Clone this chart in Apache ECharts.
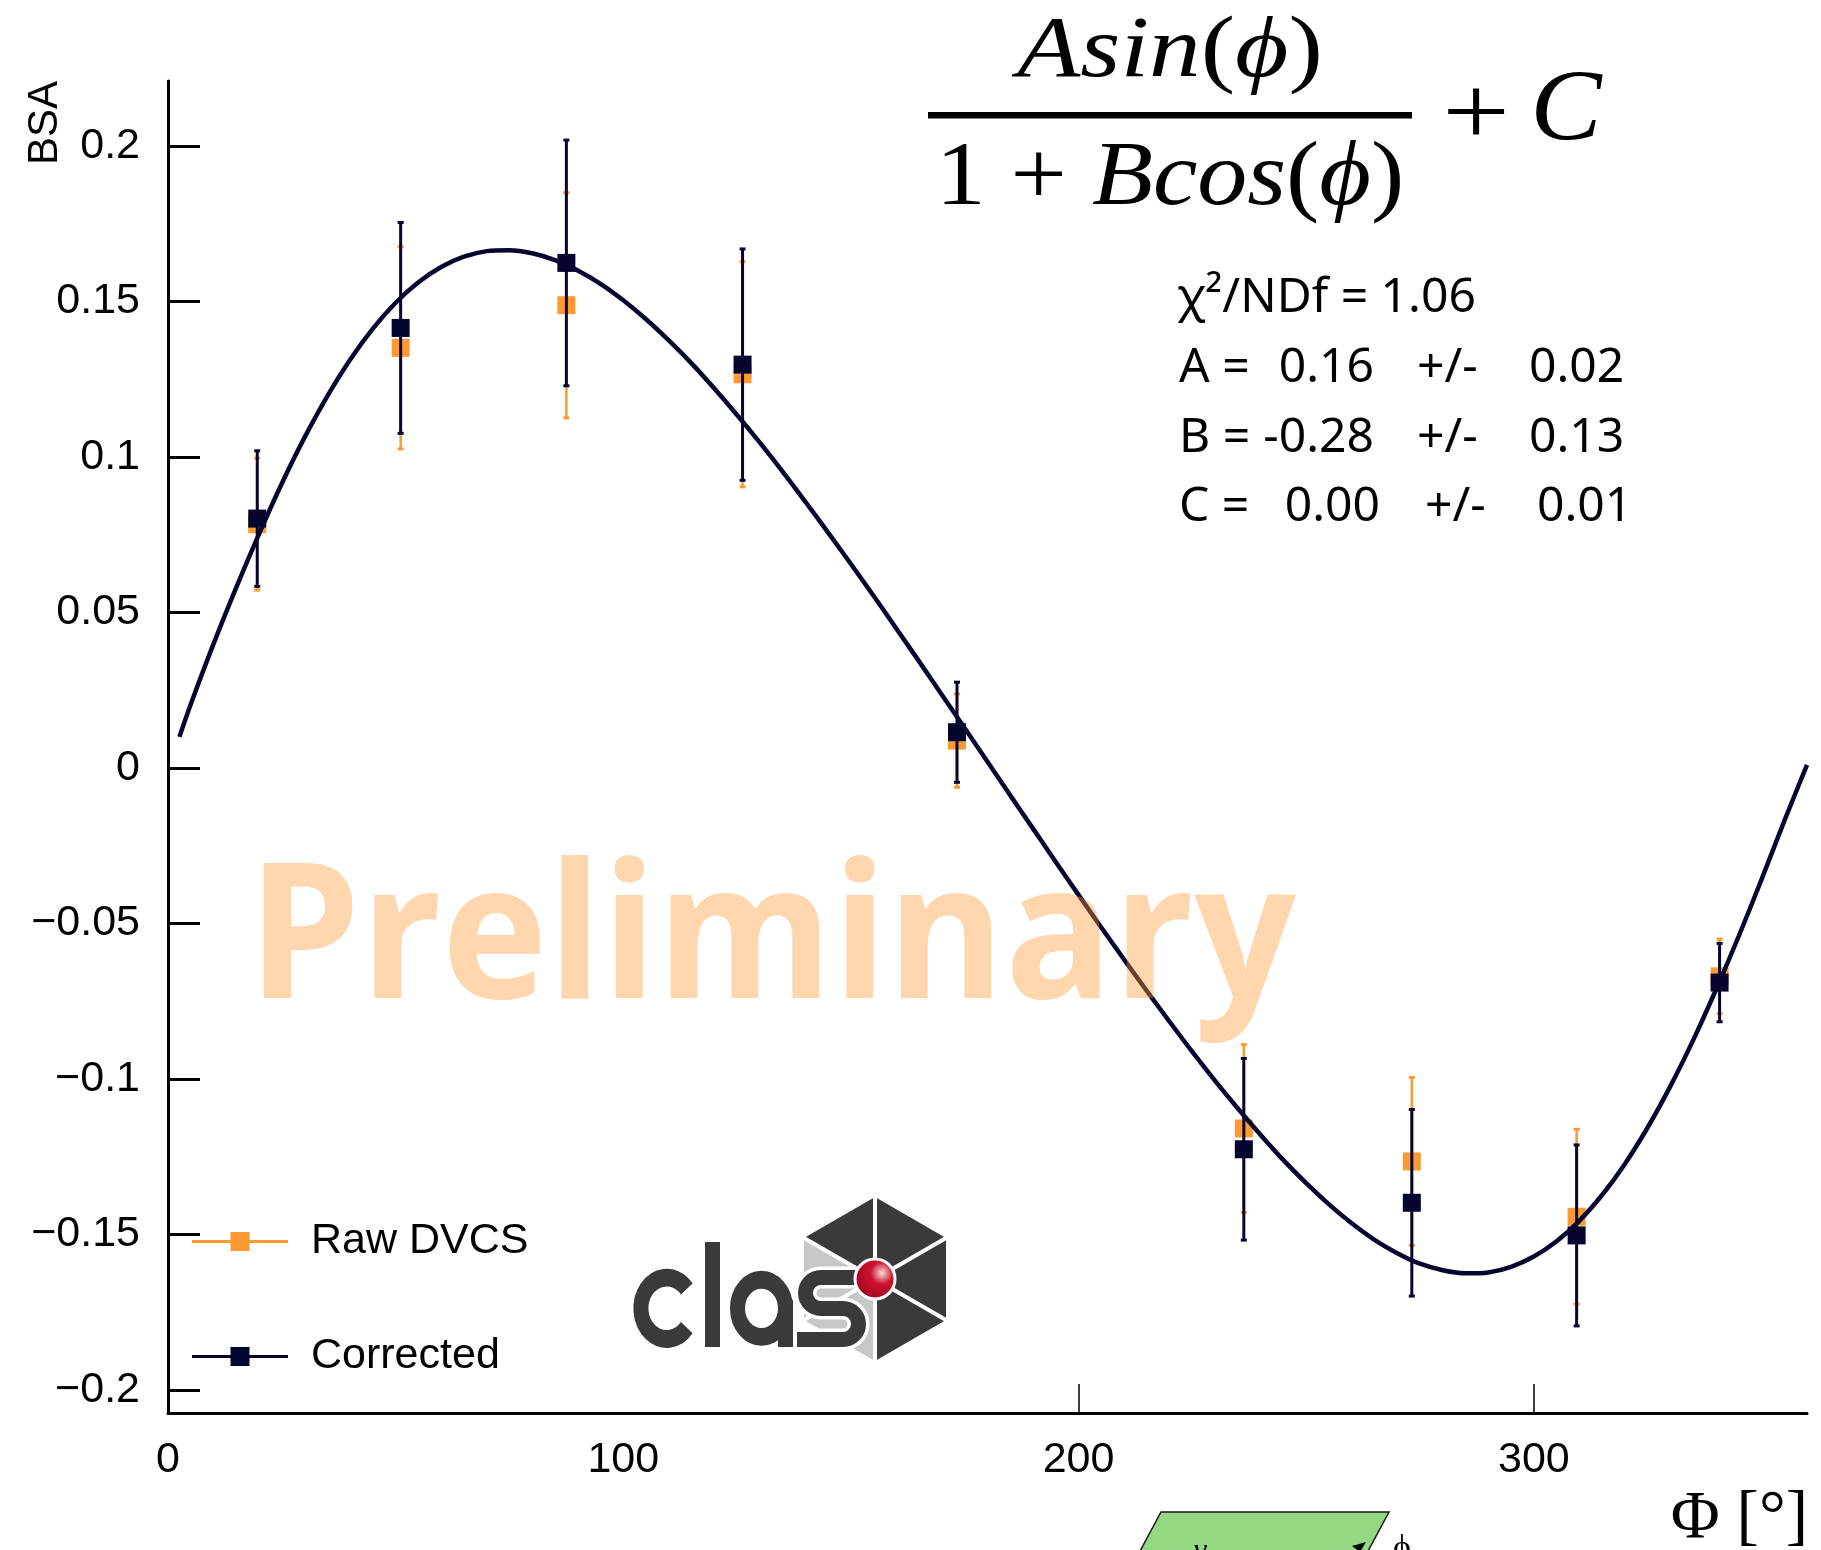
<!DOCTYPE html>
<html>
<head>
<meta charset="utf-8">
<script src="https://cdn.jsdelivr.net/npm/echarts@6/dist/echarts.min.js"></script>
<style>
  html, body { margin: 0; padding: 0; background: #ffffff; }
  #chart { width: 1821px; height: 1550px; }
</style>
</head>
<body>
<div id="chart"></div>
<script>
// Φ bin centres (degrees)
const phiBins = [19.6, 51.1, 87.5, 126.2, 173.3, 236.3, 273.2, 309.4, 340.8];

// Raw DVCS beam-spin asymmetry and its uncertainty
const rawBSA = [0.0784, 0.1351, 0.1488, 0.1266, 0.0088, -0.1159, -0.1265, -0.1443, -0.0670];
const rawErr = [0.0212, 0.0325, 0.0362, 0.0362, 0.0150, 0.0270, 0.0270, 0.0281, 0.0120];

// Corrected beam-spin asymmetry and its uncertainty
const corBSA = [0.0802, 0.1415, 0.1624, 0.1297, 0.0115, -0.1226, -0.1398, -0.1503, -0.0690];
const corErr = [0.0218, 0.0339, 0.0395, 0.0372, 0.0161, 0.0292, 0.0300, 0.0291, 0.0126];

// Fitted curve A·sin(φ)/(1+B·cos(φ)) + C, sampled along Φ
const fitPhi = [2.5, 5, 10, 15, 20, 25, 30, 35, 40, 45, 50, 55, 60, 65, 70, 75, 80, 85, 90,
  95, 100, 105, 110, 115, 120, 125, 130, 135, 140, 145, 150, 155, 160, 165, 170, 175, 180,
  185, 190, 195, 200, 205, 210, 215, 220, 225, 230, 235, 240, 245, 250, 255, 260, 265, 270,
  275, 280, 285, 290, 295, 300, 305, 310, 315, 320, 325, 330, 335, 340, 345, 350, 355, 360];
const fitBSA = [0.0100, 0.0205, 0.0399, 0.0581, 0.0753, 0.0915, 0.1063, 0.1196, 0.1313, 0.1413,
  0.1496, 0.1562, 0.1611, 0.1644, 0.1662, 0.1665, 0.1655, 0.1633, 0.1600,
  0.1557, 0.1504, 0.1443, 0.1375, 0.1301, 0.1220, 0.1135, 0.1046, 0.0953, 0.0856, 0.0757,
  0.0656, 0.0553, 0.0448, 0.0342, 0.0235, 0.0128, 0.0020,
  -0.0088, -0.0195, -0.0302, -0.0408, -0.0513, -0.0616, -0.0717, -0.0816, -0.0913, -0.1006,
  -0.1095, -0.1180, -0.1261, -0.1335, -0.1403, -0.1464, -0.1517, -0.1560,
  -0.1594, -0.1615, -0.1625, -0.1622, -0.1604, -0.1571, -0.1522, -0.1456, -0.1373, -0.1273,
  -0.1156, -0.1023, -0.0875, -0.0713, -0.0541, -0.0359, -0.0171, 0.0010];

// Axis ticks and their labels
const xTickValues = [0, 100, 200, 300];
const xTickLabels = ['0', '100', '200', '300'];
const xLongTicks = [200, 300];
const yTickValues = [-0.2, -0.15, -0.1, -0.05, 0, 0.05, 0.1, 0.15, 0.2];
const yTickLabels = ['\u22120.2', '\u22120.15', '\u22120.1', '\u22120.05', '0', '0.05', '0.1', '0.15', '0.2'];

const seriesNames = ['Raw DVCS', 'Corrected'];
const ORANGE = '#ff9933';
const NAVY = '#05052f';
const SANS = '"Liberation Sans", Arial, Helvetica, sans-serif';
const SERIF = '"Liberation Serif", "DejaVu Serif", serif';

function lookupLabel(values, labels, v) {
  const i = values.findIndex(t => Math.abs(t - v) < 1e-9);
  return i >= 0 ? labels[i] : '';
}

// Vertical error bars with small end caps
function errorBars(values, errs, color, width, z) {
  return {
    type: 'custom',
    silent: true,
    z: z,
    data: phiBins.map((p, i) => [p, values[i] - errs[i], values[i] + errs[i]]),
    encode: { x: 0, y: [1, 2] },
    renderItem: function (params, api) {
      const x = api.value(0);
      const lo = api.coord([x, api.value(1)]);
      const hi = api.coord([x, api.value(2)]);
      return {
        type: 'group',
        children: [
          { type: 'line', shape: { x1: lo[0], y1: lo[1], x2: hi[0], y2: hi[1] },
            style: { stroke: color, lineWidth: width } },
          { type: 'rect', shape: { x: lo[0] - 3, y: lo[1] - 1.5, width: 6, height: 3 },
            style: { fill: color } },
          { type: 'rect', shape: { x: hi[0] - 3, y: hi[1] - 1.5, width: 6, height: 3 },
            style: { fill: color } }
        ]
      };
    }
  };
}

function markers(name, values, color, z) {
  return {
    type: 'scatter',
    name: name,
    z: z,
    silent: true,
    symbol: 'rect',
    symbolSize: 18,
    itemStyle: { color: color, borderWidth: 0, opacity: 1 },
    emphasis: { disabled: true },
    data: phiBins.map((p, i) => [p, values[i]])
  };
}

// Legend glyph: a short line with a square marker on it
const legendIcon = 'path://M0,8L96,8L96,11L0,11Z M38.5,0L57.5,0L57.5,19L38.5,19Z';

// Text helpers for the overlay annotations
function txt(x, y, text, opts) {
  const o = opts || {};
  return {
    type: 'text',
    x: x, y: y,
    rotation: o.rotation || 0,
    scaleX: o.scaleX || 1,
    scaleY: o.scaleY || 1,
    z: o.z || 10,
    silent: true,
    style: {
      text: text,
      fontFamily: o.family || SANS,
      fontSize: o.size || 43,
      fontStyle: o.style || 'normal',
      fontWeight: o.weight || 'normal',
      fill: o.fill || '#000',
      align: o.align || 'left', textAlign: o.align || 'left',
      verticalAlign: o.valign || 'middle', textVerticalAlign: o.valign || 'middle',
      rich: o.rich
    }
  };
}

function mathRich(size) {
  return {
    i: { fontFamily: SERIF, fontSize: size, fontStyle: 'italic', fill: '#000' },
    u: { fontFamily: SERIF, fontSize: size, fontStyle: 'normal', fill: '#000' }
  };
}

// Fit-result box
const STAT = { family: '"Noto Sans", "Open Sans", sans-serif', size: 48 };
const statRows = [298, 368, 438, 507];

// CLAS logo geometry
const LOGO_DARK = '#3a3a3a';
const LOGO_LIGHT = '#c7c7c7';
const hc = [875, 1279];
const hv = [[875, 1197], [946, 1238], [946, 1320], [875, 1361], [804, 1320], [804, 1238]];
const hexFill = [LOGO_DARK, LOGO_DARK, LOGO_DARK, LOGO_LIGHT, LOGO_LIGHT, LOGO_DARK];

function sPieces(color, w) {
  const st = { stroke: color, lineWidth: w, fill: null, lineCap: 'butt' };
  return [
    { type: 'line', shape: { x1: 868, y1: 1277.5, x2: 821, y2: 1277.5 }, style: st },
    { type: 'arc', shape: { cx: 821, cy: 1293, r: 15.5, startAngle: Math.PI * 1.5, endAngle: Math.PI * 0.5, clockwise: false }, style: st },
    { type: 'line', shape: { x1: 820.5, y1: 1308.5, x2: 843.5, y2: 1308.5 }, style: st },
    { type: 'arc', shape: { cx: 843, cy: 1324, r: 15.5, startAngle: -Math.PI * 0.5, endAngle: Math.PI * 0.5, clockwise: true }, style: st },
    { type: 'line', shape: { x1: 843.5, y1: 1339.5, x2: 797, y2: 1339.5 }, style: st }
  ];
}

const logoChildren = [];
hv.forEach((v, i) => {
  const w = hv[(i + 1) % 6];
  logoChildren.push({ type: 'polygon', shape: { points: [hc, v, w] }, style: { fill: hexFill[i] } });
});
hv.forEach(v => {
  logoChildren.push({ type: 'line', shape: { x1: hc[0], y1: hc[1], x2: v[0], y2: v[1] },
    style: { stroke: '#ffffff', lineWidth: 4 } });
});
// letters c, l, a, s
logoChildren.push({
  type: 'group', x: 666.7, y: 1308.3, scaleY: 1.19,
  children: [{ type: 'arc', shape: { cx: 0, cy: 0, r: 25.8, startAngle: 0.68, endAngle: Math.PI * 2 - 0.68, clockwise: true },
    style: { stroke: LOGO_DARK, lineWidth: 15, fill: null } }]
});
logoChildren.push({ type: 'rect', shape: { x: 705, y: 1242, width: 15, height: 105 }, style: { fill: LOGO_DARK } });
logoChildren.push({
  type: 'group', x: 761.5, y: 1308.3, scaleY: 1.19,
  children: [{ type: 'circle', shape: { cx: 0, cy: 0, r: 24 }, style: { stroke: LOGO_DARK, lineWidth: 15, fill: null } }]
});
logoChildren.push({ type: 'rect', shape: { x: 778, y: 1300, width: 15, height: 47 }, style: { fill: LOGO_DARK } });
sPieces('#ffffff', 22).forEach(p => logoChildren.push(p));
sPieces(LOGO_DARK, 15).forEach(p => logoChildren.push(p));
logoChildren.push({
  type: 'circle', shape: { cx: hc[0], cy: hc[1], r: 20 },
  style: {
    stroke: '#ffffff', lineWidth: 3,
    fill: { type: 'radial', x: 0.66, y: 0.36, r: 0.75,
      colorStops: [{ offset: 0, color: '#f6ddd3' }, { offset: 0.35, color: '#cc1230' }, { offset: 1, color: '#9c0018' }] }
  }
});

const graphics = [
  // y-axis title
  txt(45, 123, 'BSA', { rotation: Math.PI / 2, align: 'center', size: 42 }),
  // x-axis title
  txt(1808, 1519, 'Φ [°]', { family: SERIF, size: 67, align: 'right' }),
  // fit function
  txt(1170, 53, '{i|Asin}{u|(}{i|\u03d5}{u|)}', { align: 'center', rich: mathRich(86), scaleX: 1.2, family: SERIF, size: 86 }),
  { type: 'rect', silent: true, shape: { x: 928, y: 112, width: 484, height: 6.5 }, style: { fill: '#000' } },
  txt(1170, 180, '{u|1 + }{i|Bcos}{u|(}{i|\u03d5}{u|)}', { align: 'center', rich: mathRich(90), scaleX: 1.11, family: SERIF, size: 90 }),
  txt(1476, 119, '+', { align: 'center', family: SERIF, size: 100, scaleX: 1.2 }),
  txt(1566, 113, 'C', { align: 'center', family: SERIF, size: 102, style: 'italic', scaleX: 1.05 }),
  // fit results
  txt(1177, statRows[0], 'χ²/NDf = 1.06', STAT),
  txt(1179, statRows[1], 'A =', STAT),
  txt(1374, statRows[1], '0.16', Object.assign({ align: 'right' }, STAT)),
  txt(1417, statRows[1], '+/-', STAT),
  txt(1529, statRows[1], '0.02', STAT),
  txt(1179, statRows[2], 'B =', STAT),
  txt(1374, statRows[2], '-0.28', Object.assign({ align: 'right' }, STAT)),
  txt(1417, statRows[2], '+/-', STAT),
  txt(1529, statRows[2], '0.13', STAT),
  txt(1179, statRows[3], 'C =', STAT),
  txt(1380, statRows[3], '0.00', Object.assign({ align: 'right' }, STAT)),
  txt(1425, statRows[3], '+/-', STAT),
  txt(1537, statRows[3], '0.01', STAT),
  // collaboration logo
  { type: 'group', silent: true, children: logoChildren },
  // kinematics sketch peeking in at the bottom edge
  { type: 'polygon', silent: true, shape: { points: [[1161, 1512], [1389, 1512], [1367, 1553], [1139, 1553]] },
    style: { fill: '#95d883', stroke: '#1a1a1a', lineWidth: 1.5 } },
  { type: 'polygon', silent: true, shape: { points: [[1352, 1546], [1366, 1542], [1360, 1552]] }, style: { fill: '#000' } },
  txt(1200, 1536, 'γ', { family: SERIF, style: 'italic', size: 32, align: 'center', valign: 'top' }),
  txt(1402, 1532, '\u03d5', { family: SERIF, size: 34, align: 'center', valign: 'top' }),
  // watermark
  txt(772, 944, 'Preliminary', { family: '"Open Sans", "Noto Sans", sans-serif', weight: 'bold', size: 179,
    scaleY: 1.05, align: 'center', fill: 'rgba(255,153,51,0.4)', z: 100 })
];

const chart = echarts.init(document.getElementById('chart'), null, { renderer: 'canvas' });
chart.setOption({
  backgroundColor: '#ffffff',
  animation: false,
  grid: { left: 168, right: 14, top: 81, bottom: 137, containLabel: false, outerBoundsMode: 'none' },
  legend: {
    orient: 'vertical',
    left: 192,
    top: 1220,
    padding: 0,
    itemWidth: 96,
    itemHeight: 19,
    itemGap: 72,
    selectedMode: false,
    data: seriesNames.map(n => ({ name: n, icon: legendIcon })),
    textStyle: { fontFamily: SANS, fontSize: 43, color: '#000', lineHeight: 43, padding: [0, 0, 0, 18] }
  },
  xAxis: {
    type: 'value',
    min: 0,
    max: 360,
    axisLine: { show: true, onZero: false, lineStyle: { color: '#000', width: 3 } },
    axisTick: { show: true, inside: true, length: 29, customValues: xLongTicks, lineStyle: { color: '#000', width: 1.5 } },
    axisLabel: {
      customValues: xTickValues,
      formatter: v => lookupLabel(xTickValues, xTickLabels, v),
      margin: 26, fontFamily: SANS, fontSize: 43, color: '#000'
    },
    splitLine: { show: false }
  },
  yAxis: {
    type: 'value',
    min: -0.2074,
    max: 0.2209,
    axisLine: { show: true, onZero: false, lineStyle: { color: '#000', width: 3 } },
    axisTick: { show: true, inside: true, length: 32, customValues: yTickValues, lineStyle: { color: '#000', width: 3 } },
    axisLabel: {
      customValues: yTickValues,
      formatter: v => lookupLabel(yTickValues, yTickLabels, v),
      margin: 28, fontFamily: SANS, fontSize: 43, color: '#000'
    },
    splitLine: { show: false }
  },
  series: [
    errorBars(rawBSA, rawErr, ORANGE, 2.5, 2),
    markers(seriesNames[0], rawBSA, ORANGE, 3),
    errorBars(corBSA, corErr, NAVY, 3, 4),
    markers(seriesNames[1], corBSA, NAVY, 5),
    {
      type: 'line',
      z: 6,
      silent: true,
      showSymbol: false,
      symbol: 'none',
      smooth: 0.3,
      lineStyle: { color: NAVY, width: 4.5 },
      data: fitPhi.map((p, i) => [p, fitBSA[i]])
    }
  ],
  graphic: { elements: graphics }
});
</script>
</body>
</html>
